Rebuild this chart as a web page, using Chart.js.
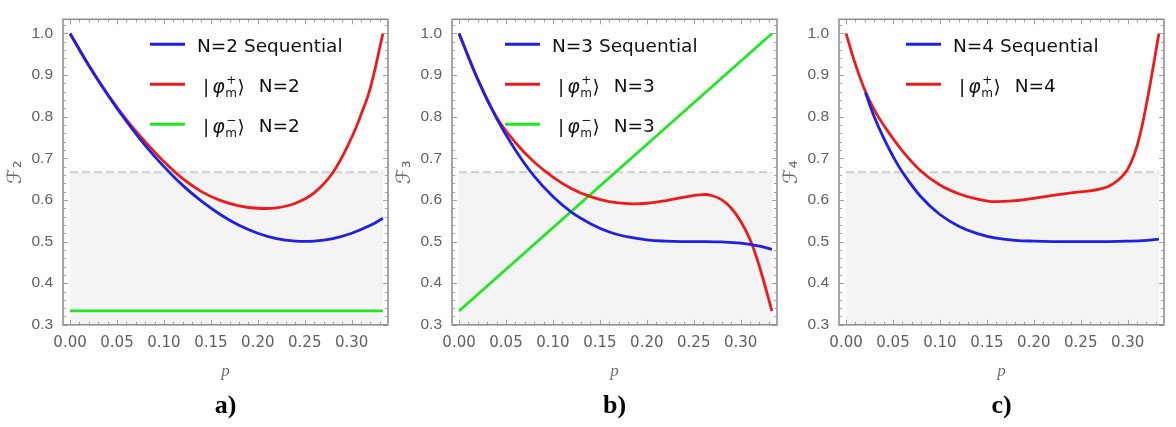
<!DOCTYPE html>
<html>
<head>
<meta charset="utf-8">
<script src="https://cdn.jsdelivr.net/npm/chart.js"></script>
<style>
  html, body { margin: 0; padding: 0; background: #fff; }
  #wrap { position: relative; width: 1176px; height: 427px; overflow: hidden; }
  .panel { position: absolute; top: 0; width: 392px; height: 427px; }
</style>
</head>
<body>
<div id="wrap">
  <div class="panel" style="left:3px"><canvas id="chartA" width="392" height="427"></canvas></div>
  <div class="panel" style="left:392px"><canvas id="chartB" width="392" height="427"></canvas></div>
  <div class="panel" style="left:779px"><canvas id="chartC" width="392" height="427"></canvas></div>
</div>
<script>
// ---- data ----
const xTicks = [0, 0.05, 0.10, 0.15, 0.20, 0.25, 0.30];
const yTicks = [0.3, 0.4, 0.5, 0.6, 0.7, 0.8, 0.9, 1.0];

// shaded "classical" region: below 2/3
const shadeP = [0, 0.3333];
const shadeF = [0.6667, 0.6667];

// panel a (N=2)
const pA = [0, 0.02, 0.04, 0.06, 0.08, 0.10, 0.12, 0.14, 0.16, 0.18, 0.20, 0.22, 0.24, 0.26, 0.28, 0.30, 0.32, 0.3333];
const seqA = [1.000, 0.923, 0.853, 0.789, 0.731, 0.680, 0.635, 0.597, 0.565, 0.539, 0.520, 0.507, 0.501, 0.501, 0.507, 0.520, 0.539, 0.556];
const pPlusA = [0, 0.02, 0.04, 0.06, 0.08, 0.10, 0.12, 0.14, 0.16, 0.18, 0.20, 0.22, 0.24, 0.26, 0.28, 0.30, 0.31, 0.32, 0.3333];
const plusA = [1.000, 0.923, 0.854, 0.793, 0.740, 0.692, 0.651, 0.620, 0.599, 0.586, 0.580, 0.581, 0.592, 0.617, 0.666, 0.750, 0.805, 0.870, 1.000];
const pMinusA = [0, 0.3333];
const minusA = [0.3333, 0.3333];

// panel b (N=3)
const pB = [0, 0.02, 0.04, 0.06, 0.08, 0.10, 0.12, 0.14, 0.16, 0.18, 0.20, 0.22, 0.24, 0.26, 0.28, 0.30, 0.32, 0.3333];
const seqB = [1.000, 0.889, 0.796, 0.720, 0.657, 0.608, 0.570, 0.543, 0.523, 0.511, 0.504, 0.501, 0.500, 0.500, 0.499, 0.496, 0.489, 0.481];
const pPlusB = [0, 0.02, 0.04, 0.06, 0.08, 0.10, 0.12, 0.14, 0.16, 0.18, 0.20, 0.22, 0.24, 0.26, 0.27, 0.28, 0.29, 0.30, 0.31, 0.32, 0.3333];
const plusB = [1.000, 0.890, 0.799, 0.738, 0.691, 0.655, 0.627, 0.608, 0.596, 0.591, 0.592, 0.598, 0.607, 0.613, 0.610, 0.600, 0.580, 0.549, 0.505, 0.440, 0.333];
const pMinusB = [0, 0.3333];
const minusB = [0.3333, 1.000];

// panel c (N=4)
const pSeqC = [0.0206, 0.03, 0.04, 0.05, 0.06, 0.08, 0.10, 0.12, 0.14, 0.16, 0.18, 0.20, 0.22, 0.24, 0.26, 0.28, 0.30, 0.32, 0.3333];
const seqC = [0.858, 0.800, 0.749, 0.705, 0.667, 0.607, 0.565, 0.537, 0.519, 0.508, 0.503, 0.501, 0.500, 0.500, 0.500, 0.500, 0.501, 0.503, 0.506];
const pPlusC = [0, 0.01, 0.02, 0.03, 0.04, 0.06, 0.08, 0.10, 0.12, 0.14, 0.155, 0.18, 0.20, 0.22, 0.24, 0.26, 0.27, 0.28, 0.29, 0.30, 0.31, 0.32, 0.3333];
const plusC = [1.000, 0.926, 0.864, 0.817, 0.780, 0.718, 0.669, 0.636, 0.615, 0.602, 0.596, 0.598, 0.604, 0.611, 0.617, 0.622, 0.626, 0.633, 0.648, 0.674, 0.730, 0.830, 1.000];

const BLUE = '#1f1fe8', RED = '#ec1c1c', GREEN = '#22e622';
const X_MIN = -0.0075, X_MAX = 0.3387, Y_MIN = 0.3, Y_MAX = 1.034;

function pts(xs, ys) {
  return xs.map((x, i) => ({ x: x, y: ys[i] }));
}

// minor ticks for the Mathematica-style frame
const xMinor = [];
for (let i = 0; i <= 33; i++) xMinor.push(i / 100);
const yMinor = [];
for (let i = 15; i <= 51; i++) yMinor.push(i / 50);

function drawLabel(ctx, label, tx, ly) {
  const base = ly + 8;
  const font = '18.5px "DejaVu Sans"';
  ctx.fillStyle = '#111';
  ctx.textBaseline = 'alphabetic';
  ctx.textAlign = 'left';
  const m = label.match(/^\|φ_(.)\^(.)⟩ (.*)$/);
  if (!m) {
    ctx.font = font;
    ctx.fillText(label, tx, base);
    return;
  }
  let cx = tx + 6;
  ctx.font = font;
  ctx.fillText('|', cx, base + 1);
  cx += ctx.measureText('|').width + 3;
  ctx.font = 'italic 19px "DejaVu Sans"';
  ctx.fillText('φ', cx, base + 1);
  cx += ctx.measureText('φ').width + 0.5;
  ctx.font = '12px "DejaVu Sans"';
  ctx.fillText(m[1], cx, base + 5);
  ctx.fillText(m[2], cx + 1, base - 8);
  cx += Math.max(ctx.measureText(m[1]).width, ctx.measureText(m[2]).width) + 0.5;
  ctx.font = font;
  ctx.fillText('⟩', cx, base + 1);
  cx += ctx.measureText('⟩').width + 14;
  ctx.fillText(m[3], cx, base);
}

const frameLegend = {
  id: 'frameLegend',
  afterDatasetsDraw(chart, args, opts) {
    const { ctx, chartArea: a, scales: { x, y } } = chart;
    ctx.save();
    ctx.strokeStyle = '#a3a3a3';
    ctx.lineWidth = 1;
    ctx.beginPath();
    xMinor.forEach(v => {
      const px = Math.round(x.getPixelForValue(v)) + 0.5;
      const len = Math.round(v * 100) % 5 === 0 ? 5 : 3;
      ctx.moveTo(px, a.bottom); ctx.lineTo(px, a.bottom - len);
      ctx.moveTo(px, a.top); ctx.lineTo(px, a.top + len);
    });
    yMinor.forEach(v => {
      const py = Math.round(y.getPixelForValue(v)) + 0.5;
      const len = Math.round(v * 50) % 5 === 0 ? 5 : 3;
      ctx.moveTo(a.left, py); ctx.lineTo(a.left + len, py);
      ctx.moveTo(a.right, py); ctx.lineTo(a.right - len, py);
    });
    ctx.stroke();
    ctx.strokeStyle = '#8c8c8c';
    ctx.lineWidth = 1.5;
    ctx.strokeRect(a.left, a.top, a.right - a.left, a.bottom - a.top);

    // legend inside the plot
    let ly = a.top + opts.top;
    chart.data.datasets.forEach(ds => {
      if (!ds.label) return;
      const x0 = a.left + opts.dx;
      ctx.strokeStyle = ds.borderColor;
      ctx.lineWidth = 3;
      ctx.beginPath();
      ctx.moveTo(x0, ly); ctx.lineTo(x0 + 35, ly);
      ctx.stroke();
      drawLabel(ctx, ds.label, x0 + 47, ly);
      ly += opts.gap;
    });
    ctx.restore();
  }
};

function makePanel(id, lines, yTitle, tag, legendDx) {
  const datasets = lines.map(l => ({
    label: l.label,
    data: pts(l.p, l.f),
    borderColor: l.color,
    borderWidth: 2.8,
    pointRadius: 0,
    fill: false,
    tension: 0.4,
    order: 0
  }));
  datasets.push({
    label: '',
    data: pts(shadeP, shadeF),
    borderColor: '#cdcdcd',
    borderWidth: 2,
    borderDash: [8, 4],
    backgroundColor: '#f4f4f4',
    pointRadius: 0,
    fill: 'start',
    order: 10
  });
  const tickFontX = { family: 'DejaVu Sans', size: 15 };
  const tickFontY = { family: 'Liberation Sans', size: 15.5 };
  return new Chart(document.getElementById(id), {
    type: 'line',
    data: { datasets: datasets },
    options: {
      responsive: false,
      animation: false,
      events: [],
      layout: { padding: { top: 2, right: 7, left: 0, bottom: 0 } },
      scales: {
        x: {
          type: 'linear', min: X_MIN, max: X_MAX,
          afterFit: s => { s.height = 66; },
          afterBuildTicks: s => { s.ticks = xTicks.map(v => ({ value: v })); },
          grid: { display: false, drawTicks: false },
          border: { display: false },
          ticks: { font: tickFontX, color: '#606060', padding: 9, maxRotation: 0, autoSkip: false,
                   callback: v => v.toFixed(2) },
          title: { display: true, text: 'p', color: '#707070',
                   font: { family: 'Liberation Serif', size: 17, style: 'italic' },
                   padding: { top: 0, bottom: 9 } }
        },
        y: {
          type: 'linear', min: Y_MIN, max: Y_MAX,
          afterFit: s => { s.width = 60; },
          afterBuildTicks: s => { s.ticks = yTicks.map(v => ({ value: v })); },
          grid: { display: false, drawTicks: false },
          border: { display: false },
          ticks: { font: tickFontY, color: '#606060', padding: 10, callback: v => v.toFixed(1) },
          title: { display: true, text: yTitle, color: '#6a6a6a',
                   font: { family: 'DejaVu Sans', size: 20 },
                   padding: { top: 1, bottom: 0 } }
        }
      },
      plugins: {
        legend: { display: false },
        tooltip: { enabled: false },
        title: {
          display: true, position: 'bottom', text: tag, fullSize: false, color: '#000',
          font: { family: 'Liberation Serif', size: 26, weight: 'bold' },
          padding: { top: 0, bottom: 5 }
        },
        frameLegend: { dx: legendDx, top: 25, gap: 40 }
      }
    },
    plugins: [frameLegend]
  });
}

makePanel('chartA', [
  { label: 'N=2 Sequential', p: pA, f: seqA, color: BLUE },
  { label: '|φ_m^+⟩ N=2', p: pPlusA, f: plusA, color: RED },
  { label: '|φ_m^−⟩ N=2', p: pMinusA, f: minusA, color: GREEN }
], 'ℱ₂', 'a)', 87);

makePanel('chartB', [
  { label: 'N=3 Sequential', p: pB, f: seqB, color: BLUE },
  { label: '|φ_m^+⟩ N=3', p: pPlusB, f: plusB, color: RED },
  { label: '|φ_m^−⟩ N=3', p: pMinusB, f: minusB, color: GREEN }
], 'ℱ₃', 'b)', 53);

makePanel('chartC', [
  { label: 'N=4 Sequential', p: pSeqC, f: seqC, color: BLUE },
  { label: '|φ_m^+⟩ N=4', p: pPlusC, f: plusC, color: RED }
], 'ℱ₄', 'c)', 67);
</script>
</body>
</html>
